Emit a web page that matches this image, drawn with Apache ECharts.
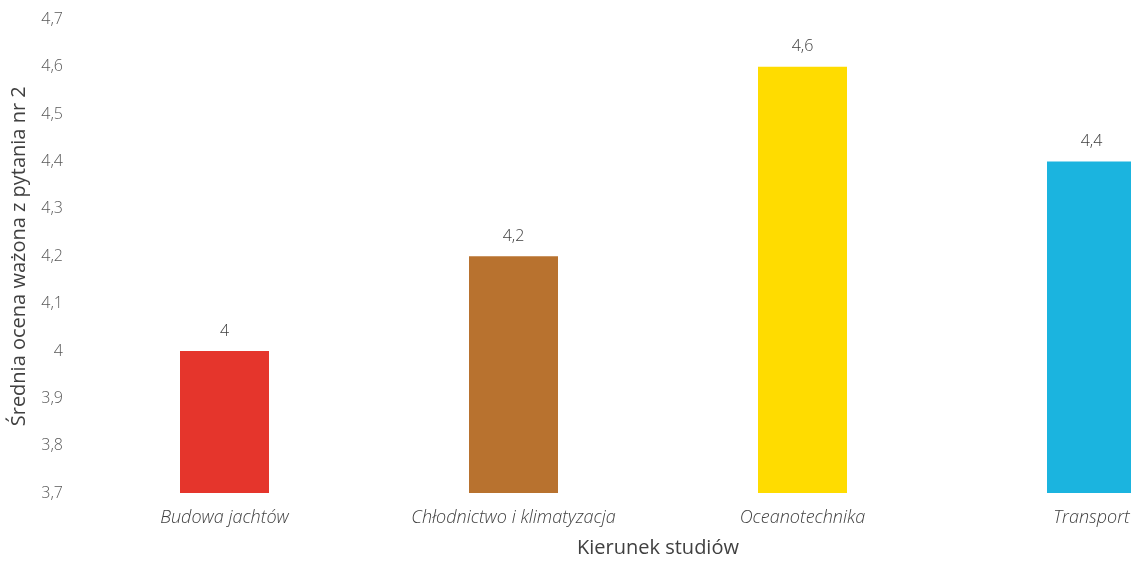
<!DOCTYPE html>
<html>
<head>
<meta charset="utf-8">
<script src="https://cdn.jsdelivr.net/npm/echarts@6/dist/echarts.min.js"></script>
<style>
html,body{margin:0;padding:0;background:#fff;overflow:hidden;width:1131px;height:563px;}
#c{width:1236px;height:563px;}
</style>
</head>
<body>
<div id="c"></div>
<script>
const categories = ['Budowa jachtów', 'Chłodnictwo i klimatyzacja', 'Oceanotechnika', 'Transport'];
const values = [4.0, 4.2, 4.6, 4.4];
const barColors = ['#e5352c', '#b8722f', '#ffdc00', '#1bb4df'];
const yAxisName = 'Średnia ocena ważona z pytania nr 2';
const xAxisName = 'Kierunek studiów';

const fmt = v => String(Math.round(v * 10) / 10).replace('.', ',');

const chart = echarts.init(document.getElementById('c'));
chart.setOption({
  animation: false,
  backgroundColor: '#ffffff',
  grid: { left: 80, right: 0, top: 19.5, bottom: 68.5, containLabel: false },
  xAxis: {
    type: 'category',
    data: categories,
    name: xAxisName,
    nameLocation: 'middle',
    nameGap: 45,
    nameTextStyle: { fontFamily: 'Open Sans', fontSize: 20, color: '#404040' },
    axisLine: { show: false },
    axisTick: { show: false },
    axisLabel: { margin: 16, fontFamily: 'Open Sans', fontStyle: 'italic', fontWeight: 300, fontSize: 18, color: '#404040' }
  },
  yAxis: {
    type: 'value',
    min: 3.7,
    max: 4.7,
    interval: 0.1,
    name: yAxisName,
    nameLocation: 'middle',
    nameGap: 51,
    nameTextStyle: { fontFamily: 'Open Sans', fontSize: 20, color: '#404040' },
    axisLine: { show: false },
    axisTick: { show: false },
    splitLine: { show: false },
    axisLabel: { margin: 17, fontFamily: 'Open Sans', fontWeight: 300, fontSize: 16, color: '#595959', formatter: fmt }
  },
  series: [{
    type: 'bar',
    barWidth: 89,
    data: values.map((v, i) => ({ value: v, itemStyle: { color: barColors[i] } })),
    label: {
      show: true,
      position: 'top',
      distance: 12,
      fontFamily: 'Open Sans',
      fontWeight: 300,
      fontSize: 16,
      color: '#404040',
      formatter: p => fmt(p.value)
    }
  }]
});
</script>
</body>
</html>
